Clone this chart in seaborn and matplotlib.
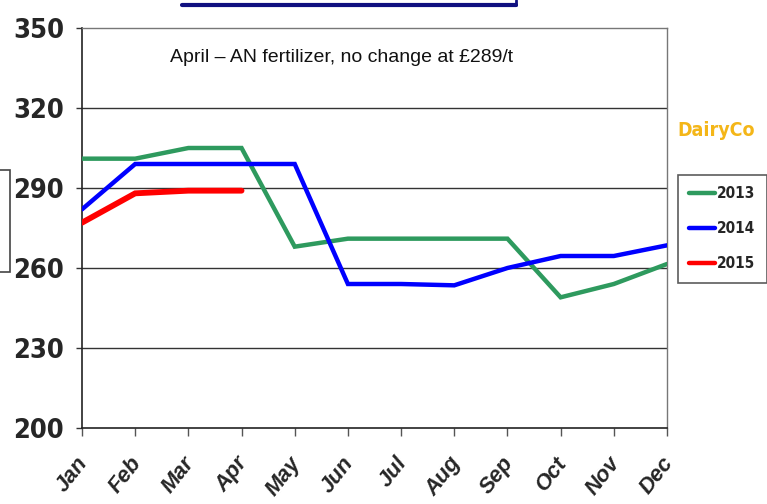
import matplotlib
matplotlib.use("Agg")
import matplotlib.pyplot as plt
import matplotlib.patches as mpatches
import matplotlib.transforms as mtransforms
from matplotlib.lines import Line2D
import seaborn as sns
import pandas as pd

months = ["Jan", "Feb", "Mar", "Apr", "May", "Jun", "Jul", "Aug", "Sep", "Oct", "Nov", "Dec"]
y2013 = [301, 301, 305, 305, 268, 271, 271, 271, 271, 249, 254, 261.5]
y2014 = [282, 299, 299, 299, 299, 254, 254, 253.5, 260, 264.5, 264.5, 268.5]
y2015 = [277, 288, 289, 289]
yticks = [200, 230, 260, 290, 320, 350]
title_text = "April \u2013 AN fertilizer, no change at \u00a3289/t"

sns.set_theme(style="white")
plt.rcParams["font.family"] = ["DejaVu Sans"]

rows = []
for yr, vals in (("2013", y2013), ("2014", y2014), ("2015", y2015)):
    for i, v in enumerate(vals):
        rows.append({"month": i, "price": v, "year": yr})
df = pd.DataFrame(rows)

W, H = 767, 504
fig = plt.figure(figsize=(W / 100, H / 100), dpi=100)
ax = fig.add_axes([82 / W, 1 - 428 / H, (667 - 82) / W, (428 - 28) / H])

palette = {"2013": "#2e9a5e", "2014": "#0000ff", "2015": "#ff0000"}
for yr in ["2013", "2014", "2015"]:
    sub = df[df["year"] == yr]
    sns.lineplot(data=sub, x="month", y="price", color=palette[yr],
                 linewidth=4.2 if yr == "2015" else 3.2, ax=ax, legend=False,
                 solid_joinstyle="miter", zorder=3)

ax.set_xlim(0, 11)
ax.set_ylim(200, 350)
ax.set_yticks(yticks)
ax.set_yticklabels([str(t) for t in yticks], fontsize=19.5, fontweight="bold",
                   fontstretch="condensed", family="DejaVu Sans")
ax.set_xticks(range(12))
ax.set_xticklabels(months, fontsize=16, fontweight="bold", fontstyle="italic",
                   rotation=52, ha="right", va="top", rotation_mode="anchor",
                   family=["Liberation Sans", "DejaVu Sans"])
ax.tick_params(axis="x", direction="out", length=6, width=1, color="#555555", bottom=True, pad=10)
ax.tick_params(axis="y", direction="out", length=4, width=1, color="#333333", left=True, pad=9)
offset = mtransforms.ScaledTranslation(-6 / 100, -3 / 100, fig.dpi_scale_trans)
for lab in ax.get_xticklabels():
    lab.set_transform(lab.get_transform() + offset)
ax.set_xlabel("")
ax.set_ylabel("")
for y in [230, 260, 290, 320]:
    ax.axhline(y, color="#333333", linewidth=1.0, zorder=1)
for side in ["left", "bottom"]:
    ax.spines[side].set_color("#222222")
    ax.spines[side].set_linewidth(1.2)
for side in ["top", "right"]:
    ax.spines[side].set_color("#777777")
    ax.spines[side].set_linewidth(1.0)

ax.text((342 - 82) / 585, 0.9275, title_text, transform=ax.transAxes, ha="center", va="center",
        fontsize=14, family=["Liberation Sans", "DejaVu Sans"], color="#111111")

# top decorative underline
fig.add_artist(Line2D([182 / W, 516 / W], [1 - 5 / H, 1 - 5 / H], color="#101080", linewidth=3))
fig.add_artist(Line2D([516 / W, 516 / W], [1 - 5 / H, 1.0], color="#101080", linewidth=2))

# left partial box
fig.add_artist(mpatches.Rectangle((-5 / W, 1 - 272 / H), 15 / W, 102 / H, fill=False,
                                  edgecolor="#444444", linewidth=1.2))

# DairyCo logo text
fig.text(716 / W, 1 - 130 / H, "DairyCo", ha="center", va="center", fontsize=14,
         fontweight="bold", fontstretch="condensed", color="#f4b618", family="DejaVu Sans")

handles = [Line2D([], [], color=palette[y], linewidth=3.2) for y in ["2013", "2014", "2015"]]
leg = fig.legend(handles, ["2013", "2014", "2015"], loc="upper left",
                 bbox_to_anchor=(678 / W, 1 - 175 / H), frameon=True, fancybox=False,
                 prop={"size": 11, "weight": "bold", "stretch": "condensed", "family": "DejaVu Sans"},
                 handlelength=1.7, handletextpad=0.1, labelspacing=1.3, borderpad=0.75,
                 borderaxespad=0)
leg.get_frame().set_edgecolor("#333333")
leg.get_frame().set_linewidth(1.2)

fig.savefig("out.png", dpi=100)
